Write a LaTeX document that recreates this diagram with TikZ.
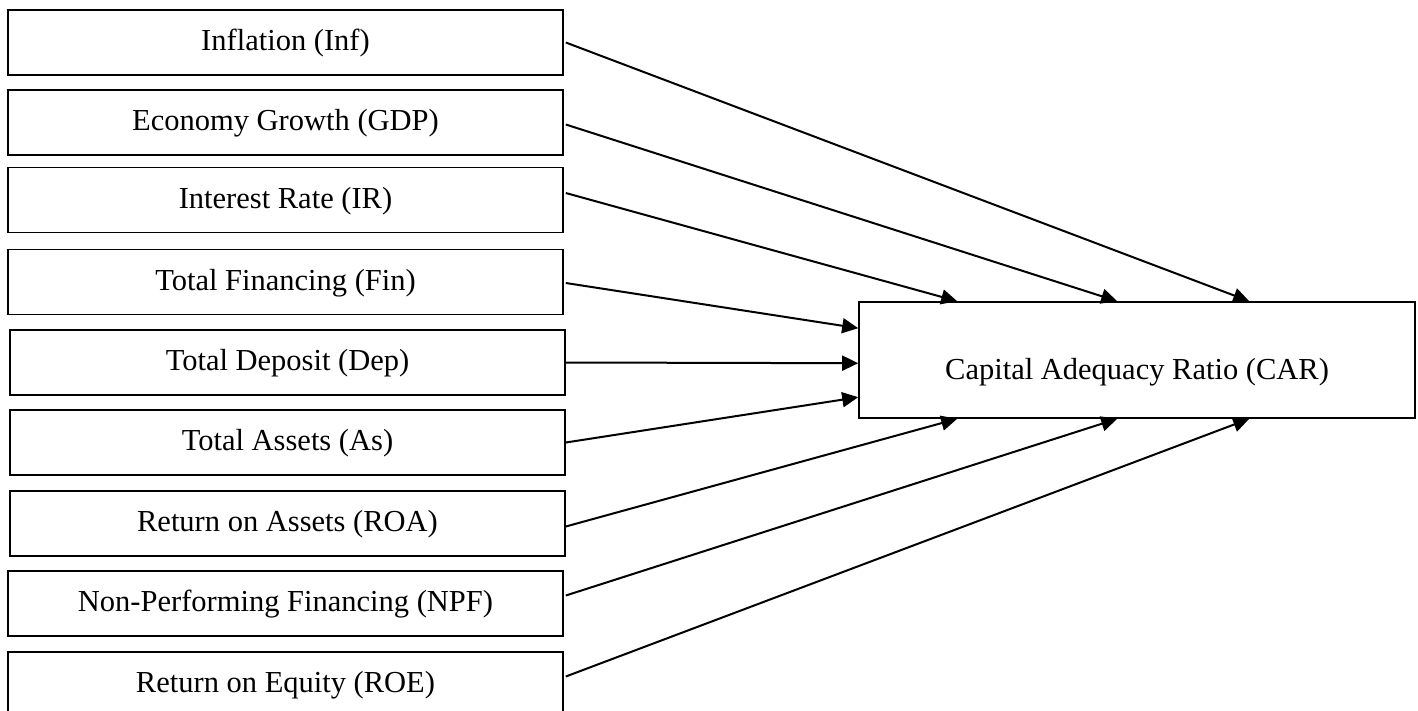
\documentclass[tikz,border=0pt]{standalone}
\usepackage{fontspec}
\setmainfont{Liberation Serif}
\usetikzlibrary{arrows.meta,calc}
\begin{document}
\begin{tikzpicture}[x=1pt,y=-1pt,
  varbox/.style={draw,line width=1.6pt,minimum width=555pt,minimum height=65pt,inner sep=0pt,text height=23pt,text depth=6.7pt,font=\fontsize{30.5}{36}\selectfont},
  carbox/.style={draw,line width=1.6pt,minimum width=556pt,minimum height=116pt,inner sep=0pt,text height=46.5pt,text depth=6.7pt,font=\fontsize{30.5}{36}\selectfont},
  link/.style={line width=2pt,-{Triangle[length=16pt,width=15pt]}}]
\useasboundingbox (0,0) rectangle (1418,710);
\node[varbox] (inf) at (285.5,42.5) {Inflation (Inf)};
\node[varbox] (gdp) at (285.5,122.5) {Economy Growth (GDP)};
\node[varbox] (ir) at (285.5,200) {Interest Rate (IR)};
\node[varbox] (fin) at (285.5,282) {Total Financing (Fin)};
\node[varbox] (dep) at (287.5,362.5) {Total Deposit (Dep)};
\node[varbox] (as) at (287.5,442.5) {Total Assets (As)};
\node[varbox] (roa) at (287.5,523.5) {Return on Assets (ROA)};
\node[varbox] (npf) at (285.5,603.5) {Non-Performing Financing (NPF)};
\node[varbox] (roe) at (285.5,684.5) {Return on Equity (ROE)};
\node[carbox] (car) at (1137,360) {Capital Adequacy Ratio (CAR)};
\draw[link] ($(inf.east)+(2,0)$) -- ($(car.north west)+(391,0)$);
\draw[link] ($(gdp.east)+(2,2)$) -- ($(car.north west)+(259,0)$);
\draw[link] ($(ir.east)+(2,-7)$) -- ($(car.north west)+(99,0)$);
\draw[link] ($(fin.east)+(2,1)$) -- ($(car.north west)+(0,27)$);
\draw[link] ($(dep.east)+(0,0)$) -- ($(car.north west)+(0,62)$);
\draw[link] ($(as.east)+(0,0)$) -- ($(car.north west)+(0,96)$);
\draw[link] ($(roa.east)+(0,3)$) -- ($(car.south west)+(99,0)$);
\draw[link] ($(npf.east)+(2,-8)$) -- ($(car.south west)+(259,0)$);
\draw[link] ($(roe.east)+(2,-8)$) -- ($(car.south west)+(391,0)$);
\end{tikzpicture}
\end{document}
